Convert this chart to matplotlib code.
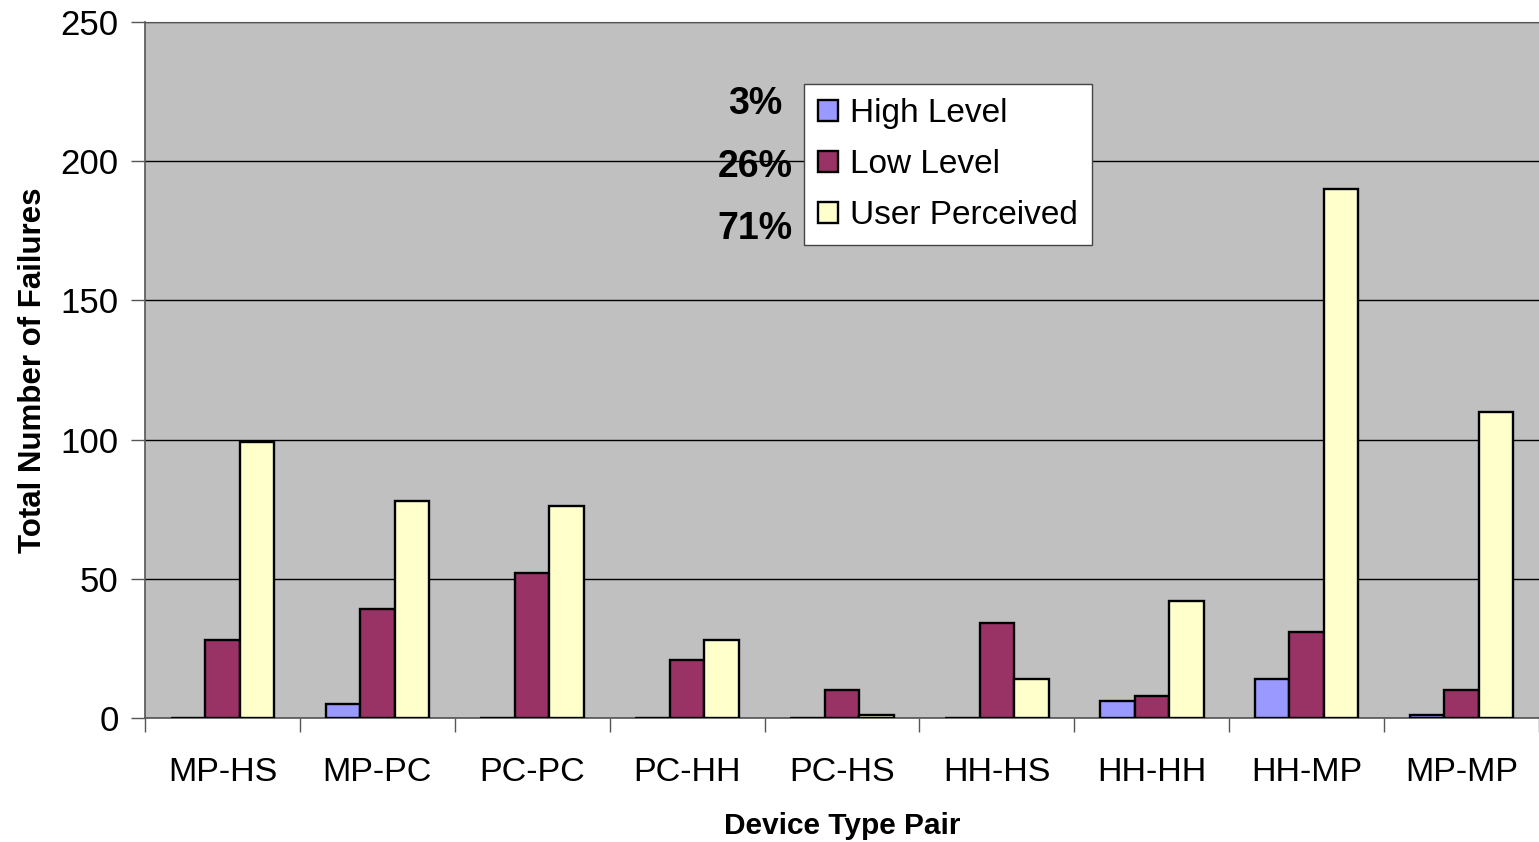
import numpy as np
import matplotlib.pyplot as plt

plt.rcParams['font.family'] = ['Liberation Sans', 'DejaVu Sans']

# data
pairs = ['MP-HS', 'MP-PC', 'PC-PC', 'PC-HH', 'PC-HS', 'HH-HS', 'HH-HH', 'HH-MP', 'MP-MP']
high_level = [0, 5, 0, 0, 0, 0, 6, 14, 1]
low_level = [28, 39, 52, 21, 10, 34, 8, 31, 10]
user_perceived = [99, 78, 76, 28, 1, 14, 42, 190, 110]
series_names = ['High Level', 'Low Level', 'User Perceived']
shares = ['3%', '26%', '71%']
colors = ['#9999FF', '#993366', '#FFFFCC']

fig = plt.figure(figsize=(15.39, 8.42), dpi=100)
ax = fig.add_axes([145 / 1539, 1 - 718 / 842, 1 - 145 / 1539, (718 - 22) / 842])
ax.set_facecolor('#C0C0C0')

x = np.arange(len(pairs)) + 0.5
w = 0.223
for i, vals in enumerate([high_level, low_level, user_perceived]):
    ax.bar(x + (i - 1) * w, vals, w, color=colors[i], edgecolor='black',
           linewidth=1.7, label=series_names[i], zorder=3)

ax.set_xlim(0, len(pairs))
ax.set_ylim(0, 250)
ax.set_yticks(range(0, 251, 50))
ax.yaxis.grid(True, color='black', linewidth=1.0, zorder=1)
ax.set_axisbelow(True)

# category boundaries as major ticks, labels on minor ticks
ax.set_xticks(range(len(pairs) + 1))
ax.set_xticklabels([])
ax.set_xticks(x, minor=True)
ax.set_xticklabels(pairs, minor=True, fontsize=24.5)
ax.tick_params(axis='x', which='major', length=10, width=1, color='#555555', direction='out')
ax.tick_params(axis='x', which='minor', length=0, pad=28)
ax.tick_params(axis='y', length=10, width=1, color='#555555', labelsize=25, pad=9)

for s in ['left', 'bottom']:
    ax.spines[s].set_color('#555555')
    ax.spines[s].set_linewidth(1.2)
ax.spines['right'].set_visible(False)
ax.spines['top'].set_color('#555555')

ax.set_ylabel('Total Number of Failures', fontsize=22.5, fontweight='bold', labelpad=9)
ax.set_xlabel('Device Type Pair', fontsize=21.5, fontweight='bold', labelpad=17)

leg = ax.legend(loc='upper left', bbox_to_anchor=(804 / 1539, 1 - 84 / 842),
                bbox_transform=fig.transFigure, fontsize=24, frameon=True,
                fancybox=False, framealpha=1, facecolor='white',
                handlelength=0.6, handleheight=0.6,
                handletextpad=0.35, labelspacing=0.6, borderpad=0.42,
                borderaxespad=0)
leg.get_frame().set_edgecolor('#444444')
leg.get_frame().set_linewidth(1.0)

for label, ypix in zip(shares, [104, 167, 229]):
    fig.text(755 / 1539, 1 - ypix / 842, label, fontsize=27, fontweight='bold',
             ha='center', va='center')

fig.savefig('out.png', dpi=100)
